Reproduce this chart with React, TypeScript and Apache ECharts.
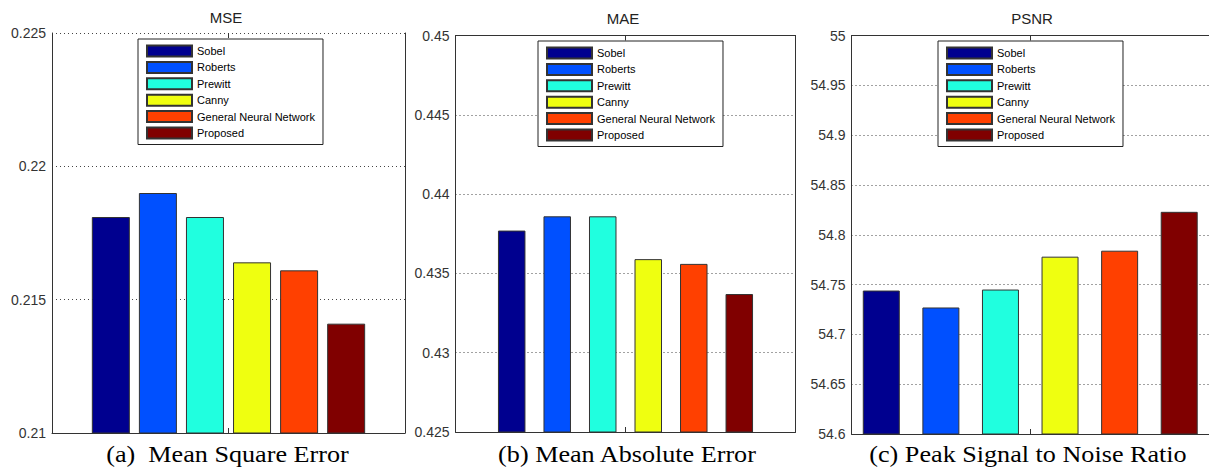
import React, { useEffect, useRef } from "react";
import * as echarts from "echarts";

const METHODS = ["Sobel", "Roberts", "Prewitt", "Canny", "General Neural Network", "Proposed"];
const COLORS = ["#00008F", "#0050FF", "#20FFDF", "#EFFF10", "#FF4000", "#800000"];
const X_POS = [1, 2, 3, 4, 5, 6];

const MSE = [0.2181, 0.219, 0.2181, 0.2164, 0.2161, 0.2141];
const MAE = [0.4377, 0.4386, 0.4386, 0.4359, 0.4356, 0.4337];
const PSNR = [54.744, 54.727, 54.745, 54.778, 54.784, 54.823];

const TITLES = ["MSE", "MAE", "PSNR"];
const CAPTIONS = ["(a)  Mean Square Error", "(b) Mean Absolute Error", "(c) Peak Signal to Noise Ratio"];
const Y_MIN = [0.21, 0.425, 54.6];
const Y_MAX = [0.225, 0.45, 55];
const Y_STEP = [0.005, 0.005, 0.05];

const PANEL_VALUES = [MSE, MAE, PSNR];

// layout
const GRIDS = [
  { left: 52, top: 33, width: 353, height: 400 },
  { left: 455.5, top: 35.5, width: 340, height: 396.5 },
  { left: 851.5, top: 35.5, width: 363, height: 398.5 },
];
const X_RANGE = [
  [-0.25, 7.25],
  [-0.235, 7.235],
  [0.5, 6.5],
];
const BAR_W = [38, 27.5, 37];
const LEGEND_POS = [
  { left: 138, top: 39 },
  { left: 538, top: 41 },
  { left: 938, top: 41 },
];
const TITLE_POS = [
  { x: 226, y: 17 },
  { x: 623, y: 18 },
  { x: 1032, y: 18 },
];
const CAPTION_X = [227.5, 627, 1028];

const SANS = "'Liberation Sans', Arial, sans-serif";
const SERIF = "'Liberation Serif', 'Times New Roman', serif";

export default function App() {
  const ref = useRef<HTMLDivElement>(null);
  useEffect(() => {
    if (!ref.current) return;
    document.body.style.margin = "0";
    const chart = echarts.init(ref.current, null, { renderer: "svg" });
    const fmt = (v: number) => String(Number(v.toFixed(4)));

    const grid: any[] = [];
    const xAxis: any[] = [];
    const yAxis: any[] = [];
    const series: any[] = [];
    const legend: any[] = [];
    const graphic: any[] = [];

    for (let p = 0; p < 3; p++) {
      grid.push({ ...GRIDS[p], show: false, containLabel: false });
      xAxis.push({
        type: "value",
        gridIndex: p,
        position: "bottom",
        min: X_RANGE[p][0],
        max: X_RANGE[p][1],
        axisLine: { show: true, onZero: false, lineStyle: { color: "#333", width: 1 } },
        axisTick: { show: true, inside: true, length: 5, customValues: [3.5], lineStyle: { color: "#333" } },
        axisLabel: { show: false },
        splitLine: { show: false },
      });
      xAxis.push({
        type: "value",
        gridIndex: p,
        position: "top",
        min: X_RANGE[p][0],
        max: X_RANGE[p][1],
        axisLine: { show: p !== 0, onZero: false, lineStyle: { color: "#333", width: 1 } },
        axisTick: { show: true, inside: true, length: 5, customValues: [3.5], lineStyle: { color: "#333" } },
        axisLabel: { show: false },
        splitLine: { show: false },
      });
      yAxis.push({
        type: "value",
        gridIndex: p,
        position: "left",
        min: Y_MIN[p],
        max: Y_MAX[p],
        interval: Y_STEP[p],
        axisLine: { show: true, onZero: false, lineStyle: { color: "#333", width: 1 } },
        axisTick: { show: false },
        axisLabel: {
          show: true,
          margin: 6,
          formatter: fmt,
          color: "#333",
          fontSize: 14,
          fontFamily: SANS,
        },
        splitLine: {
          show: true,
          showMinLine: false,
          showMaxLine: p === 0,
          lineStyle: { color: "#444", width: 1, type: [1, 3] },
        },
      });
      yAxis.push({
        type: "value",
        gridIndex: p,
        position: "right",
        min: Y_MIN[p],
        max: Y_MAX[p],
        interval: Y_STEP[p],
        axisLine: { show: true, onZero: false, lineStyle: { color: "#333", width: 1 } },
        axisTick: { show: false },
        axisLabel: { show: false },
        splitLine: { show: false },
      });

      const vals = PANEL_VALUES[p];
      METHODS.forEach((name, i) => {
        series.push({
          type: "bar",
          name,
          xAxisIndex: p * 2,
          yAxisIndex: p * 2,
          data: [[X_POS[i], vals[i]]],
          barWidth: BAR_W[p],
          barGap: "-100%",
          clip: true,
          itemStyle: { color: COLORS[i], borderColor: "#333", borderWidth: 1 },
          emphasis: { disabled: true },
        });
      });

      legend.push({
        show: true,
        orient: "vertical",
        left: LEGEND_POS[p].left,
        top: LEGEND_POS[p].top,
        data: METHODS,
        icon: "rect",
        itemWidth: 45,
        itemHeight: 11,
        itemGap: 3.4,
        padding: [5.5, 8, 5, 8],
        backgroundColor: "#fff",
        borderColor: "#222",
        borderWidth: 1,
        borderRadius: 0,
        selectedMode: false,
        textStyle: { fontSize: 11, fontFamily: SANS, color: "#000" },
      });

      graphic.push({
        type: "text",
        x: TITLE_POS[p].x,
        y: TITLE_POS[p].y,
        style: {
          text: TITLES[p],
          fontSize: 15,
          fontFamily: SANS,
          fill: "#222",
          align: "center",
          verticalAlign: "middle",
        },
      });
      graphic.push({
        type: "text",
        x: CAPTION_X[p],
        y: 454,
        scaleX: 1.09,
        style: {
          text: CAPTIONS[p],
          fontSize: 24,
          fontFamily: SERIF,
          fill: "#000",
          align: "center",
          verticalAlign: "middle",
        },
      });
    }

    chart.setOption({
      animation: false,
      backgroundColor: "#fff",
      grid,
      xAxis,
      yAxis,
      series,
      legend,
      graphic,
      tooltip: { show: false },
    });
    return () => chart.dispose();
  }, []);
  return (
    <div style={{ position: "fixed", left: 0, top: 0, width: 1209, height: 470 }}>
      <div ref={ref} style={{ width: 1209, height: 470, background: "#fff" }} />
    </div>
  );
}
